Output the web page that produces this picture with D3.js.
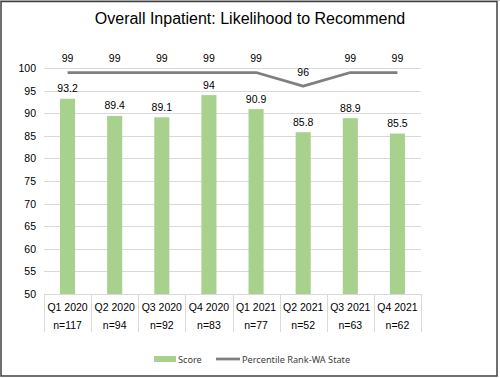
<!DOCTYPE html>
<html><head><meta charset="utf-8">
<script src="https://cdn.jsdelivr.net/npm/d3@7"></script>
<style>body{margin:0;background:#fff}svg{display:block}</style>
</head><body>
<script>
const quarters = ["Q1 2020","Q2 2020","Q3 2020","Q4 2020","Q1 2021","Q2 2021","Q3 2021","Q4 2021"];
const counts = ["n=117","n=94","n=92","n=83","n=77","n=52","n=63","n=62"];
const scores = [93.2, 89.4, 89.1, 94, 90.9, 85.8, 88.9, 85.5];
const percentile = [99, 99, 99, 99, 99, 96, 99, 99];
const yTicks = [50,55,60,65,70,75,80,85,90,95,100];

(function(){
const W = 500, H = 378;
const svg = d3.select("body").append("svg").attr("width", W).attr("height", H);
svg.append("rect").attr("x",0).attr("y",0).attr("width",W).attr("height",H).attr("fill","#fff");
svg.append("line").attr("x1",0).attr("x2",W).attr("y1",0.5).attr("y2",0.5).attr("stroke","#c8c8c8");
svg.append("rect").attr("x",1).attr("y",1.5).attr("width",496).attr("height",374.5)
  .attr("fill","none").attr("stroke","#404040").attr("stroke-width",1.5);

const pL = 44, pR = 421, pT = 68, pB = 294;
const x = d3.scaleBand().domain(quarters).range([pL, pR]).paddingInner(0.68).paddingOuter(0.34);
const xb = d3.scaleBand().domain(quarters).range([pL, pR]);
const y = d3.scaleLinear().domain([50, 100]).range([pB, pT]);
const font = "Liberation Sans, Arial, sans-serif";
const fs = 10.5;

svg.append("text").attr("x", 250).attr("y", 24).attr("text-anchor","middle")
  .attr("font-family",font).attr("font-size",16).attr("fill","#000")
  .text("Overall Inpatient: Likelihood to Recommend");

svg.append("g").selectAll("line").data(yTicks).join("line")
  .attr("x1", pL).attr("x2", pR).attr("y1", d=>Math.round(y(d))+0.5).attr("y2", d=>Math.round(y(d))+0.5)
  .attr("stroke","#d9d9d9").attr("stroke-width",1);

svg.append("g").selectAll("text").data(yTicks).join("text")
  .attr("x", 36).attr("y", d=>y(d)+4).attr("text-anchor","end")
  .attr("font-family",font).attr("font-size",fs).attr("fill","#000")
  .text(d=>d);

const bounds = quarters.map(q=>xb(q)).concat([pR]);
svg.append("g").selectAll("line").data(bounds).join("line")
  .attr("x1", d=>Math.round(d)+0.5).attr("x2", d=>Math.round(d)+0.5).attr("y1", pB).attr("y2", 332)
  .attr("stroke","#d9d9d9");

svg.append("g").selectAll("rect").data(scores).join("rect")
  .attr("x", (d,i)=>x(quarters[i])).attr("width", x.bandwidth())
  .attr("y", d=>y(d)).attr("height", d=>pB - y(d)).attr("fill","#a9d18e");

svg.append("g").selectAll("text").data(scores).join("text")
  .attr("x", (d,i)=>xb(quarters[i]) + xb.bandwidth()/2).attr("y", d=>y(d)-6.5)
  .attr("text-anchor","middle").attr("font-family",font).attr("font-size",fs)
  .attr("fill","#000").text(d=>d);

const line = d3.line().x((d,i)=>xb(quarters[i]) + xb.bandwidth()/2).y(d=>y(d));
svg.append("path").datum(percentile).attr("d", line).attr("fill","none")
  .attr("stroke","#7f7f7f").attr("stroke-width",2.75).attr("stroke-linejoin","round");
svg.append("g").selectAll("text").data(percentile).join("text")
  .attr("x", (d,i)=>xb(quarters[i]) + xb.bandwidth()/2).attr("y", d=>y(d)-10.5)
  .attr("text-anchor","middle").attr("font-family",font).attr("font-size",fs)
  .attr("fill","#000").text(d=>d);

svg.append("g").selectAll("text").data(quarters).join("text")
  .attr("x", d=>xb(d)+xb.bandwidth()/2).attr("y", 310.5).attr("text-anchor","middle")
  .attr("font-family",font).attr("font-size",fs).attr("fill","#000").text(d=>d);
svg.append("g").selectAll("text").data(counts).join("text")
  .attr("x", (d,i)=>xb(quarters[i])+xb.bandwidth()/2).attr("y", 329).attr("text-anchor","middle")
  .attr("font-family",font).attr("font-size",fs).attr("fill","#000").text(d=>d);

const lg = svg.append("g").attr("font-family","Noto Sans, Open Sans, sans-serif").attr("font-size",9.2).attr("fill","#404040");
lg.append("rect").attr("x",154).attr("y",356).attr("width",22).attr("height",6).attr("fill","#a9d18e");
lg.append("text").attr("x",178).attr("y",362.5).text("Score");
lg.append("line").attr("x1",216).attr("x2",240).attr("y1",359).attr("y2",359).attr("stroke","#7f7f7f").attr("stroke-width",2.75);
lg.append("text").attr("x",242).attr("y",362.5).text("Percentile Rank-WA State");
})();
</script>
</body></html>
